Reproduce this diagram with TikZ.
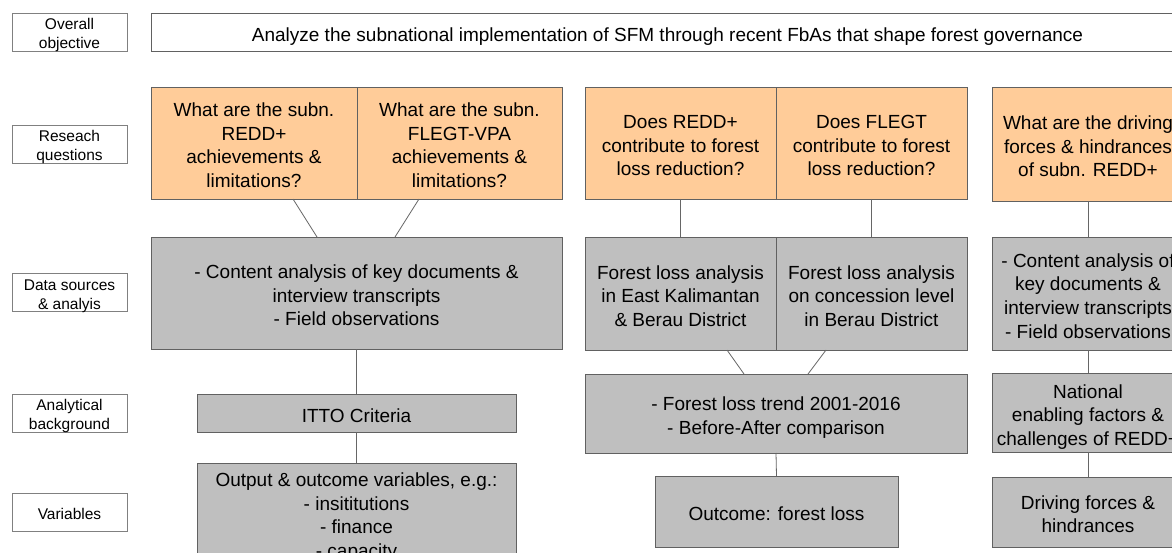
\documentclass[tikz,border=0pt]{standalone}
\usepackage{fontspec}
\setmainfont{Liberation Sans}
% struts for the first and last text lines of a box, so that the block sits centred
\newcommand\gtop{\rule{0pt}{1.24em}}
\newcommand\gbot{\rule[-0.274em]{0pt}{0pt}}
\begin{document}
\begin{tikzpicture}[x=1pt,y=-1pt,
  every node/.style={inner sep=0pt,outer sep=0pt},
  rowlabel/.style={draw=black!50,line width=0.9pt,fill=white,minimum width=115pt,minimum height=38pt,
    inner ysep=-4pt,align=center,font=\fontsize{15.5}{19}\selectfont},
  box/.style={draw=black!62,line width=0.9pt,align=center,font=\fontsize{19}{23.6}\selectfont},
  question/.style={box,fill=orange!40!white},
  method/.style={box,fill=black!25},
  link/.style={draw=black!60,line width=0.8pt}]
\useasboundingbox (0,0) rectangle (1172,553);
\clip (0,0) rectangle (1172,553);
\fill[white] (0,0) rectangle (1172,553);

% row labels
\node[rowlabel] (lo) at (69.5,32) {\gtop Overall\\objective\gbot};
\node[rowlabel] (lr) at (69.5,144) {\gtop Reseach\\questions\gbot};
\node[rowlabel] (ld) at (69.5,292.5) {\gtop Data sources\\\& analyis\gbot};
\node[rowlabel] (la) at (69.5,413) {\gtop Analytical\\background\gbot};
\node[rowlabel] (lv) at (69.5,512) {\gtop Variables\gbot};

% overall objective
\node[box,fill=white,minimum width=1033pt,minimum height=38pt,inner ysep=-2pt] (obj) at (667.5,32)
  {\gtop Analyze the subnational implementation of SFM through recent FbAs that shape forest governance\gbot};

% research questions
\node[question,minimum width=206pt,minimum height=112pt] (q1) at (254,143)
  {\gtop What are the subn.\\REDD+\\achievements \&\\limitations?\gbot};
\node[question,minimum width=205pt,minimum height=112pt] (q2) at (459.5,143)
  {\gtop What are the subn.\\FLEGT-VPA\\achievements \&\\limitations?\gbot};
\node[question,minimum width=191pt,minimum height=112pt] (q3) at (680.5,143)
  {\gtop Does REDD+\\contribute to forest\\loss reduction?\gbot};
\node[question,minimum width=191pt,minimum height=112pt] (q4) at (871.5,143)
  {\gtop Does FLEGT\\contribute to forest\\loss reduction?\gbot};
\node[question,minimum width=192pt,minimum height=114pt] (q5) at (1088,144)
  {\gtop What are the driving\\forces \& hindrances\\of subn. REDD+\gbot};

% data sources and analysis
\node[method,minimum width=411pt,minimum height=112pt] (d1) at (356.5,293)
  {\gtop - Content analysis of key documents \&\\interview transcripts\\- Field observations\gbot};
\node[method,minimum width=191pt,minimum height=113pt] (d2) at (680.5,293.5)
  {\gtop Forest loss analysis\\in East Kalimantan\\\& Berau District\gbot};
\node[method,minimum width=191pt,minimum height=113pt] (d3) at (871.5,293.5)
  {\gtop Forest loss analysis\\on concession level\\in Berau District\gbot};
\node[method,minimum width=192pt,minimum height=113pt] (d4) at (1088,293.5)
  {\gtop - Content analysis of\\key documents \&\\interview transcripts\\- Field observations\gbot};

% analytical background
\node[method,minimum width=319pt,minimum height=38pt,inner ysep=-2pt] (a1) at (356.5,413) {\gtop ITTO Criteria\gbot};
\node[method,minimum width=382pt,minimum height=79pt] (a2) at (776,413.5)
  {\gtop - Forest loss trend 2001-2016\\- Before-After comparison\gbot};
\node[method,minimum width=192pt,minimum height=79pt] (a3) at (1088,412.5)
  {\gtop National\\enabling factors \&\\challenges of REDD+\gbot};

% variables
\node[method,minimum width=319pt,minimum height=98pt] (v1) at (356.5,513)
  {\gtop Output \& outcome variables, e.g.:\\- insititutions\\- finance\\- capacity\gbot};
\node[method,minimum width=243pt,minimum height=71pt] (v2) at (776.5,511.5) {\gtop Outcome: forest loss\gbot};
\node[method,minimum width=192pt,minimum height=70pt] (v3) at (1088,512) {\gtop Driving forces \&\\hindrances\gbot};

% connectors between the rows
\draw[link] ([xshift=39pt]q1.south) -- ([xshift=-39.5pt]d1.north);
\draw[link] ([xshift=-40.5pt]q2.south) -- ([xshift=38.5pt]d1.north);
\draw[link] (q3.south) -- (d2.north);
\draw[link] (q4.south) -- (d3.north);
\draw[link] (q5.south) -- (d4.north);
\draw[link] (d1.south) -- (a1.north);
\draw[link] ([xshift=46.5pt]d2.south) -- ([xshift=-32pt]a2.north);
\draw[link] ([xshift=-45.5pt]d3.south) -- ([xshift=32pt]a2.north);
\draw[link] (d4.south) -- (a3.north);
\draw[link] (a1.south) -- (v1.north);
\draw[link] (a2.south) -- (v2.north);
\draw[link] (a3.south) -- (v3.north);
\end{tikzpicture}
\end{document}
